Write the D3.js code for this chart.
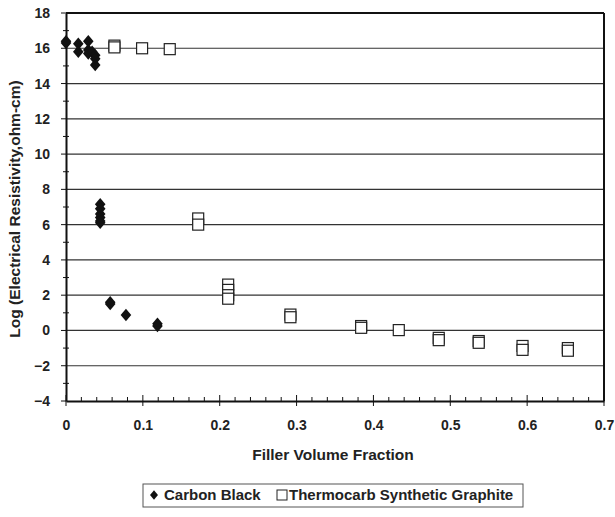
<!DOCTYPE html>
<html>
<head>
<meta charset="utf-8">
<script src="https://cdn.jsdelivr.net/npm/d3@7"></script>
<style>
  body { margin: 0; background: #fff; }
  svg text { font-family: "Liberation Sans", Arial, sans-serif; font-weight: bold; fill: #222; }
</style>
</head>
<body>
<div id="chart"></div>
<script>
// Carbon Black (filled diamonds)
const carbonX = [0, 0, 0.016, 0.016, 0.029, 0.029, 0.029, 0.034, 0.038, 0.038, 0.038,
  0.0445, 0.0445, 0.0445, 0.0445, 0.0445, 0.0445, 0.0575, 0.0575, 0.078, 0.119, 0.119];
const carbonY = [16.3, 16.4, 16.25, 15.8, 16.4, 15.9, 15.7, 15.8, 15.6, 15.4, 15.05,
  7.15, 6.9, 6.6, 6.4, 6.2, 6.1, 1.6, 1.5, 0.88, 0.38, 0.25];

// Thermocarb Synthetic Graphite (open squares)
const graphX = [0.063, 0.063, 0.099, 0.135, 0.172, 0.172, 0.211, 0.211, 0.211, 0.211,
  0.292, 0.292, 0.384, 0.384, 0.433, 0.485, 0.485, 0.537, 0.537, 0.594, 0.594, 0.653, 0.653];
const graphY = [16.15, 16.05, 16.0, 15.95, 6.35, 6.0, 2.6, 2.3, 2.0, 1.8,
  0.9, 0.75, 0.25, 0.15, 0.02, -0.42, -0.55, -0.6, -0.7, -0.88, -1.1, -1.0, -1.15];

const xTicks = [0, 0.1, 0.2, 0.3, 0.4, 0.5, 0.6, 0.7];
const yTicks = [-4, -2, 0, 2, 4, 6, 8, 10, 12, 14, 16, 18];

const W = 615, H = 517;
const plotLeft = 66, plotRight = 604, plotTop = 13, plotBottom = 401;

const svg = d3.select('#chart').append('svg')
  .attr('width', W).attr('height', H);

const x = d3.scaleLinear().domain([0, 0.7]).range([plotLeft, plotRight]);
const y = d3.scaleLinear().domain([-4, 18]).range([plotBottom, plotTop]);

// rhombus marker a bit taller than wide, like the original
const rhombus = {
  draw(ctx, size) {
    const h = Math.sqrt(size) * 0.78, w = h * 0.85;
    ctx.moveTo(0, -h); ctx.lineTo(w, 0); ctx.lineTo(0, h); ctx.lineTo(-w, 0); ctx.closePath();
  }
};

// horizontal gridlines
svg.append('g').selectAll('line')
  .data(yTicks.filter(d => d > -4 && d < 18))
  .enter().append('line')
  .attr('x1', plotLeft).attr('x2', plotRight)
  .attr('y1', d => y(d)).attr('y2', d => y(d))
  .attr('stroke', '#333').attr('stroke-width', 1.2);

// frame: top and right
svg.append('line').attr('x1', plotLeft).attr('x2', plotRight).attr('y1', y(18)).attr('y2', y(18))
  .attr('stroke', '#111').attr('stroke-width', 2);
svg.append('line').attr('x1', plotRight).attr('x2', plotRight).attr('y1', plotTop).attr('y2', plotBottom)
  .attr('stroke', '#111').attr('stroke-width', 2);

// x axis
const xAxis = d3.axisBottom(x).tickValues(xTicks).tickFormat(d3.format('')).tickSize(0).tickPadding(19);
const gx = svg.append('g').attr('transform', `translate(0,${plotBottom})`).call(xAxis);
gx.select('.domain').attr('stroke', '#111').attr('stroke-width', 2);
gx.selectAll('text').attr('font-size', 14).attr('fill', '#222');
gx.append('g').selectAll('line')
  .data(d3.range(0, 0.7001, 0.02))
  .enter().append('line')
  .attr('x1', d => x(d)).attr('x2', d => x(d))
  .attr('y1', d => Math.abs(d * 10 - Math.round(d * 10)) < 1e-6 ? -6 : -4)
  .attr('y2', d => Math.abs(d * 10 - Math.round(d * 10)) < 1e-6 ? 5 : 0)
  .attr('stroke', '#111').attr('stroke-width', 1);

// y axis
const yAxis = d3.axisLeft(y).tickValues(yTicks).tickSize(0).tickPadding(16);
const gy = svg.append('g').attr('transform', `translate(${plotLeft},0)`).call(yAxis);
gy.select('.domain').attr('stroke', '#111').attr('stroke-width', 2);
gy.selectAll('text').attr('font-size', 14).attr('fill', '#222');
gy.append('g').selectAll('line')
  .data(d3.range(-4, 18.01, 1))
  .enter().append('line')
  .attr('x1', d => d % 2 === 0 ? -5 : -3).attr('x2', d => d % 2 === 0 ? 0 : 3)
  .attr('y1', d => y(d)).attr('y2', d => y(d))
  .attr('stroke', '#111').attr('stroke-width', 1);

// axis titles
svg.append('text')
  .attr('x', 333).attr('y', 460)
  .attr('text-anchor', 'middle').attr('font-size', 15.5)
  .text('Filler Volume Fraction');
svg.append('text')
  .attr('transform', 'translate(20,209) rotate(-90)')
  .attr('text-anchor', 'middle').attr('font-size', 15.5)
  .text('Log (Electrical Resistivity,ohm-cm)');

// marks
svg.append('g').selectAll('path')
  .data(carbonX.map((d, i) => [d, carbonY[i]]))
  .enter().append('path')
  .attr('d', d3.symbol().type(rhombus).size(64))
  .attr('transform', d => `translate(${x(d[0])},${y(d[1])})`)
  .attr('fill', '#111');

const s = 11;
svg.append('g').selectAll('rect')
  .data(graphX.map((d, i) => [d, graphY[i]]))
  .enter().append('rect')
  .attr('x', d => x(d[0]) - s / 2).attr('y', d => y(d[1]) - s / 2)
  .attr('width', s).attr('height', s)
  .attr('fill', '#fff').attr('stroke', '#222').attr('stroke-width', 1.2);

// legend
const lg = svg.append('g');
lg.append('rect').attr('x', 143).attr('y', 484).attr('width', 380).attr('height', 23)
  .attr('fill', '#fff').attr('stroke', '#555').attr('stroke-width', 1);
lg.append('path').attr('d', d3.symbol().type(rhombus).size(36))
  .attr('transform', 'translate(154,495)').attr('fill', '#111');
lg.append('text').attr('x', 164).attr('y', 500).attr('font-size', 15).text('Carbon Black');
lg.append('rect').attr('x', 277).attr('y', 490).attr('width', 10).attr('height', 10)
  .attr('fill', '#fff').attr('stroke', '#222');
lg.append('text').attr('x', 289).attr('y', 500).attr('font-size', 15).text('Thermocarb Synthetic Graphite');
</script>
</body>
</html>
